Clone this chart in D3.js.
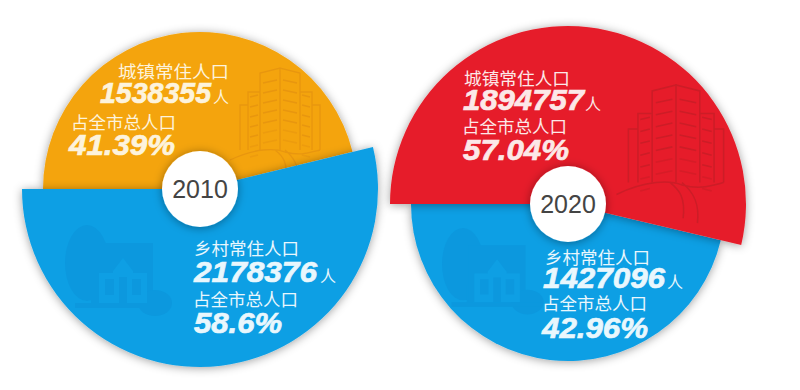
<!DOCTYPE html>
<html lang="zh">
<head>
<meta charset="UTF-8">
<title>常住人口</title>
<script src="https://cdn.jsdelivr.net/npm/d3@7"></script>
<style>
  html, body { margin: 0; padding: 0; background: #fff; }
  svg { display: block; }
  text { font-family: "Noto Sans CJK SC", "Noto Sans", sans-serif; }
  .num { font-family: "Liberation Sans", Arial, sans-serif; font-weight: bold; font-style: italic; }
</style>
</head>
<body>
<script>
// values printed in the picture
const years = ["2010", "2020"]
const groups = ["城镇", "乡村"]
const people2010 = ["1538355", "2178376"]
const people2020 = ["1894757", "1427096"]
const percent2010 = ["41.39%", "58.6%"]
const percent2020 = ["57.04%", "42.96%"]
// slice share as actually drawn. the artwork is not to scale with the printed %
const drawn2010 = [46.2, 53.8]
const drawn2020 = [53.7, 46.3]

const width = 800, height = 390
const svg = d3.select("body").append("svg").attr("width", width).attr("height", height)

const defs = svg.append("defs")
const shadow = defs.append("filter").attr("id", "shadow")
  .attr("x", "-20%").attr("y", "-20%").attr("width", "140%").attr("height", "140%")
shadow.append("feDropShadow").attr("dx", 0).attr("dy", 1).attr("stdDeviation", 5)
  .attr("flood-color", "#000").attr("flood-opacity", 0.38)

const pie = d3.pie().sort(null).startAngle(-Math.PI / 2).endAngle(Math.PI * 1.5)

const charts = [
  { year: years[0], drawn: drawn2010, people: people2010, percent: percent2010,
    cx: 200, cy: 189, colors: ["#f4a40e", "#0e9fe4"], icon: "#e8960f",
    tower: [280, 68, 1], home: [65, 225, 1],
    // name [x, y, width], number [x, y, width, size], unit x, share label [x, y], percent [x, y, width]
    labels: [
      { name: [118, 78, 111], num: [100, 103, 111, 29], unit: 213, sub: [71, 129], pct: [69, 155, 106], fill: "#fdf3dc" },
      { name: [194, 255, 105], num: [194, 282, 123, 30], unit: 320, sub: [193, 306], pct: [194, 333, 88], fill: "#e9f7fd" }
    ] },
  { year: years[1], drawn: drawn2020, people: people2020, percent: percent2020,
    cx: 568, cy: 204, colors: ["#e61f2b", "#0e9fe4"], icon: "#cc1d27",
    tower: [676, 85, 1.19], home: [442, 228, 0.95],
    labels: [
      { name: [464, 85, 106], num: [463, 110, 121, 29], unit: 585, sub: [462, 133], pct: [463, 160, 106], fill: "#fce8e8" },
      { name: [545, 264, 105], num: [543, 288, 122, 29], unit: 667, sub: [542, 310], pct: [542, 338, 106], fill: "#e9f7fd" }
    ] }
]

function building(g, [x, y, s], color) {
  // faint tower block + hand, decorative
  const b = g.append("g").attr("transform", `translate(${x},${y}) scale(${s})`)
    .attr("fill", "none").attr("stroke", color).attr("stroke-width", 1.3)
  b.append("path").attr("d", "M-40,82V37H-32M-32,82V24H-20M-20,82V5L0,0V82L0,0L20,5V82M20,24H32V82M32,37H40V82")
  for (let i = 0; i < 7; i++) {
    const yy = 12 + i * 10
    b.append("path").attr("d", `M-17,${yy + 3}L-3,${yy}M3,${yy}L17,${yy + 3}M-30,${yy + 17}L-22,${yy + 15}M22,${yy + 15}L30,${yy + 17}`)
      .attr("opacity", i > 4 ? 0.6 : 1)
  }
  b.append("path").attr("d", "M-50,92C-25,80 -5,80 5,84C20,88 28,85 40,82M-5,82C3,88 8,95 6,112M5,82C15,90 20,100 18,116")
}

function house(g, [x, y, s]) {
  const dark = "#0c98de"
  const h = g.append("g").attr("transform", `translate(${x},${y}) scale(${s})`).attr("fill", dark)
  h.append("ellipse").attr("cx", 22).attr("cy", 38).attr("rx", 22).attr("ry", 38)
  h.append("rect").attr("x", 26).attr("y", 60).attr("width", 6).attr("height", 20)
  h.append("rect").attr("x", 28).attr("y", 18).attr("width", 60).attr("height", 60)
  h.append("ellipse").attr("cx", 90).attr("cy", 78).attr("rx", 17).attr("ry", 13)
  h.append("rect").attr("x", 10).attr("y", 78).attr("width", 95).attr("height", 5)
  // lighter house front with windows
  h.append("path").attr("fill", "#0e9fe4").attr("d", "M34,78V48H48V46L58,33L68,46V48H82V78Z")
  h.append("rect").attr("x", 40).attr("y", 54).attr("width", 9).attr("height", 16)
  h.append("rect").attr("x", 54).attr("y", 52).attr("width", 8).attr("height", 26)
  h.append("rect").attr("x", 67).attr("y", 54).attr("width", 9).attr("height", 16)
}

charts.forEach(c => {
  const slices = pie(c.drawn)
  const maxVal = d3.max(c.drawn)
  // bigger slice sticks out further
  const outer = d3.scaleOrdinal().domain([false, true]).range([157, 178])
  const arc = d3.arc().innerRadius(0).outerRadius(d => outer(d.value === maxVal))

  const g = svg.append("g")
  // small slice first, the big one lies over it (and over its artwork)
  slices.slice().sort((a, b) => a.value - b.value).forEach(d => {
    g.append("path").datum(d)
      .attr("transform", `translate(${c.cx},${c.cy})`)
      .attr("d", arc)
      .attr("fill", c.colors[d.index])
      .attr("filter", "url(#shadow)")
    if (d.index === 0) building(g, c.tower, c.icon)
    else house(g, c.home)
  })

  groups.forEach((name, i) => {
    const p = c.labels[i]
    const t = g.append("g").attr("fill", p.fill)
    t.append("text").attr("x", p.name[0]).attr("y", p.name[1]).attr("font-size", 17)
      .attr("textLength", p.name[2]).attr("lengthAdjust", "spacingAndGlyphs").text(name + "常住人口")
    t.append("text").attr("class", "num").attr("x", p.num[0]).attr("y", p.num[1]).attr("font-size", p.num[3])
      .attr("stroke", p.fill).attr("stroke-width", 0.7)
      .attr("textLength", p.num[2]).attr("lengthAdjust", "spacingAndGlyphs").text(c.people[i])
    t.append("text").attr("x", p.unit).attr("y", p.num[1]).attr("font-size", 16).text("人")
    t.append("text").attr("x", p.sub[0]).attr("y", p.sub[1]).attr("font-size", 17.5).text("占全市总人口")
    t.append("text").attr("class", "num").attr("x", p.pct[0]).attr("y", p.pct[1]).attr("font-size", 29)
      .attr("stroke", p.fill).attr("stroke-width", 0.7)
      .attr("textLength", p.pct[2]).attr("lengthAdjust", "spacingAndGlyphs").text(c.percent[i])
  })

  g.append("circle").attr("cx", c.cx).attr("cy", c.cy).attr("r", 38).attr("fill", "#fff")
    .attr("filter", "url(#shadow)")
  g.append("text").attr("x", c.cx).attr("y", c.cy + 9).attr("text-anchor", "middle")
    .attr("font-size", 25).attr("fill", "#444")
    .style("font-family", "'Liberation Sans', Arial, sans-serif").text(c.year)
})
</script>
</body>
</html>
